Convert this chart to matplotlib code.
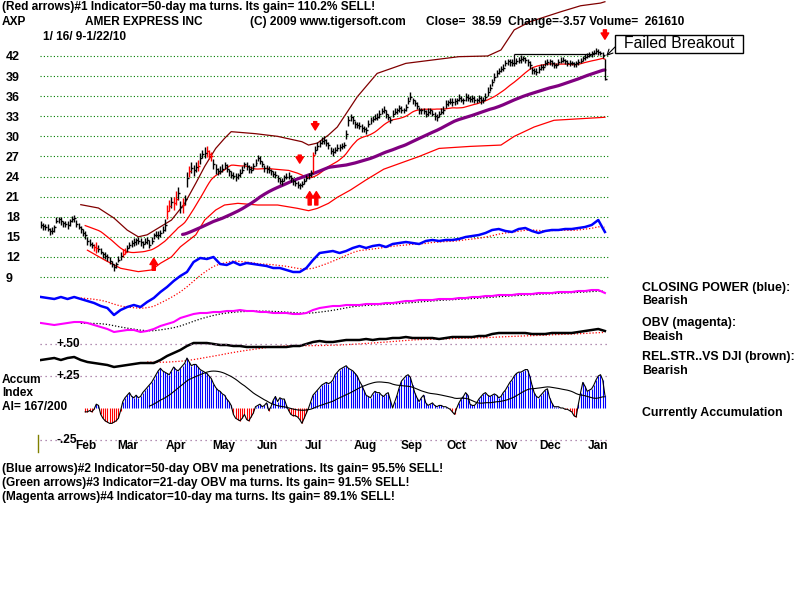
import matplotlib
matplotlib.use("Agg")
import matplotlib.pyplot as plt
import matplotlib.transforms as mtransforms
from matplotlib.lines import Line2D
from matplotlib.patches import Rectangle
import numpy as np
import pandas as pd

plt.rcParams['font.family'] = ['Liberation Sans', 'DejaVu Sans']

# --- daily price bars, AXP 1/16/09 - 1/22/10 (trading day index 0..255) ---
closes = [
    16.8, 16.6, 16.4, 16.2, 15.8, 15.9, 16.4, 17.4, 17.7, 17.3,
    17.0, 16.9, 16.7, 17.3, 17.6, 17.8, 16.9, 16.5, 16.2, 15.6,
    15.2, 14.4, 14.0, 13.8, 13.5, 13.4, 13.2, 12.8, 12.4, 12.2,
    12.0, 11.4, 11.0, 10.5, 10.9, 11.6, 12.2, 12.5, 12.8, 13.4,
    13.8, 14.1, 14.2, 14.5, 14.4, 14.2, 14.0, 14.3, 14.5, 13.8,
    14.4, 15.2, 15.3, 15.2, 15.5, 16.0, 16.8, 18.8, 19.6, 20.2,
    20.0, 20.6, 21.6, 19.4, 19.8, 20.6, 23.8, 24.8, 25.3, 25.0,
    25.4, 25.6, 26.8, 27.3, 27.5, 27.8, 27.4, 27.0, 25.8, 25.2,
    24.8, 24.9, 25.1, 25.7, 25.2, 24.8, 24.3, 24.1, 24.0, 24.2,
    24.6, 25.0, 25.8, 25.6, 25.1, 25.0, 25.6, 26.0, 26.7, 26.3,
    25.8, 25.3, 25.1, 25.0, 24.8, 24.4, 24.2, 23.8, 23.4, 23.3,
    23.9, 24.0, 24.1, 23.8, 23.3, 23.0, 22.8, 22.7, 22.9, 23.4,
    23.8, 24.2, 24.5, 27.2, 27.9, 28.5, 29.0, 29.3, 29.5, 29.0,
    28.7, 27.8, 27.7, 28.0, 28.2, 28.4, 28.6, 28.7, 30.4, 32.4,
    32.9, 32.4, 31.9, 31.7, 31.6, 31.3, 31.1, 30.9, 31.8, 32.4,
    32.6, 32.8, 32.9, 33.4, 33.8, 33.9, 33.4, 32.9, 32.4, 33.4,
    33.7, 33.9, 34.2, 34.0, 33.9, 34.4, 35.3, 35.9, 35.4, 35.0,
    34.6, 33.9, 33.9, 33.8, 33.4, 33.7, 33.9, 33.4, 33.0, 32.9,
    33.4, 33.7, 33.9, 34.9, 35.1, 35.2, 35.1, 35.3, 35.4, 35.7,
    35.5, 35.4, 35.9, 35.8, 35.6, 35.7, 35.5, 35.4, 35.7, 35.5,
    35.4, 35.9, 36.6, 37.2, 38.1, 38.8, 39.4, 39.8, 40.0, 40.2,
    40.9, 41.2, 41.1, 40.9, 41.0, 41.2, 41.4, 41.6, 41.7, 41.4,
    41.1, 40.6, 39.9, 39.7, 39.6, 40.1, 40.3, 40.4, 40.9, 41.1,
    41.2, 40.9, 40.7, 40.6, 41.1, 41.3, 41.4, 41.2, 41.0, 40.9,
    40.9, 40.8, 40.9, 41.1, 41.3, 41.7, 41.9, 42.0, 42.2, 42.4,
    42.5, 42.7, 42.6, 42.4, 42.16, 38.59,
]
up_range = [
    .6, .4, .5, .7, .5, .6, .4, .5, .3, .6,
    .4, .5, .6, .3, .5, .4, .6, .5, .4, .6,
    .7, .5, .6, .4, .5, .9, .6, .5, .4, .6,
    .5, .6, .4, .5, .3, .6, .5, .7, .6, .4,
    .5, .4, .6, .3, .5, .6, .4, .5, .4, .7,
    .6, .4, .5, .7, .5, .6, .8, 1.0, .9, .8,
    .9, 1.2, .8, .9, 1.0, .7, .9, .8, .9, .7,
    .8, .9, .7, .6, .9, .8, .6, .7, .8, .6,
    .5, .6, .7, .5, .6, .4, .5, .6, .5, .4,
    .5, .6, .4, .5, .6, .5, .4, .6, .5, .7,
    .5, .4, .6, .5, .4, .5, .6, .5, .4, .5,
    .4, .5, .6, .5, .4, .5, .6, .4, .5, .4,
    .5, .4, .5, .5, .7, .6, .5, .6, .5, .6,
    .5, .6, .5, .4, .6, .5, .4, .5, .6, .7,
    .5, .6, .4, .5, .6, .5, .4, .5, .6, .5,
    .4, .5, .6, .5, .4, .6, .5, .4, .5, .6,
    .5, .4, .5, .6, .4, .5, .6, .7, .4, .5,
    .6, .5, .4, .5, .6, .5, .4, .5, .6, .5,
    .4, .5, .6, .5, .4, .5, .6, .5, .4, .6,
    .5, .4, .6, .5, .4, .5, .6, .4, .5, .6,
    .5, .6, .7, .6, .5, .6, .5, .4, .5, .6,
    .5, .4, .5, .6, .4, .5, .4, .5, .3, .4,
    .5, .6, .4, .5, .6, .4, .5, .4, .5, .4,
    .4, .5, .4, .3, .4, .5, .4, .3, .4, .5,
    .4, .3, .4, .5, .4, .3, .4, .5, .4, .3,
    .4, .5, .4, .3, .4, 3.0,
]
down_range = [
    .5, .6, .4, .3, .6, .5, .7, .4, .6, .5,
    .6, .4, .5, .7, .4, .6, .5, .4, .6, .5,
    .5, .6, .4, .5, .6, .8, .5, .4, .6, .5,
    .6, .4, .5, .6, .5, .4, .6, .5, .4, .6,
    .4, .6, .5, .7, .4, .5, .6, .4, .6, .5,
    .5, .6, .4, .5, .6, .5, .9, 1.1, .8, .9,
    1.0, .8, 1.1, .9, 1.2, .9, 1.3, .8, .7, .9,
    .7, .8, .9, .6, .7, .9, .8, .7, .6, .8,
    .6, .5, .4, .6, .5, .7, .5, .4, .6, .5,
    .6, .4, .5, .6, .5, .4, .6, .5, .4, .5,
    .4, .6, .5, .4, .6, .5, .4, .6, .5, .6,
    .5, .4, .5, .6, .5, .4, .5, .6, .4, .5,
    .4, .5, .6, 2.6, .6, .5, .6, .5, .6, .5,
    .6, .5, .6, .5, .4, .6, .5, .4, .8, .9,
    .6, .5, .6, .4, .5, .6, .5, .6, .4, .5,
    .5, .4, .5, .6, .5, .4, .6, .5, .4, .5,
    .4, .5, .6, .5, .4, .6, .5, .4, .6, .5,
    .5, .6, .5, .4, .5, .6, .5, .4, .5, .6,
    .5, .4, .5, .6, .5, .4, .5, .6, .5, .4,
    .4, .5, .6, .5, .4, .6, .5, .4, .5, .6,
    .4, .5, .6, .5, .6, .5, .6, .5, .4, .5,
    .4, .5, .6, .4, .5, .4, .5, .6, .4, .5,
    .6, .5, .6, .4, .5, .6, .4, .5, .4, .5,
    .5, .4, .5, .4, .5, .4, .3, .4, .5, .4,
    .3, .4, .5, .4, .3, .4, .5, .3, .4, .5,
    .3, .4, .5, .3, .4, .2,
]
red_days = [24, 25, 37, 38, 57, 58, 60, 61, 64, 67, 71, 75, 76, 77, 123]

# price bands
upper_days = [18, 26, 33, 39, 44, 48, 54, 59, 65, 70, 74, 79, 83, 86, 97, 107, 118,
              121, 125, 130, 134, 143, 152, 165, 177, 189, 202, 208, 214, 221, 235,
              244, 253, 255]
upper_band = [19.8, 19.3, 17.8, 16.0, 15.0, 15.3, 16.5, 17.5, 20.0, 23.0, 25.5, 28.2,
              29.7, 30.7, 30.4, 30.0, 29.2, 28.7, 29.0, 30.2, 31.4, 35.9, 39.4, 40.9,
              41.4, 41.9, 42.0, 42.9, 45.9, 47.1, 48.6, 49.5, 49.9, 50.1]
lower_days = [21, 29, 36, 44, 50, 54, 59, 63, 70, 74, 79, 83, 89, 98, 107, 116, 121,
              125, 130, 134, 140, 147, 155, 171, 180, 194, 208, 214, 223, 232, 255]
lower_band = [13.0, 11.5, 10.3, 9.8, 10.05, 11.05, 12.0, 13.5, 15.3, 17.5, 19.0, 19.75,
              20.0, 19.75, 19.75, 19.25, 18.9, 19.25, 20.0, 20.9, 22.0, 23.5, 25.1,
              27.0, 28.2, 28.5, 28.7, 30.0, 31.4, 32.4, 32.85]

# red signal arrows: day, tail price, tip price
arrow_days = [51, 117, 121.5, 124.5, 124, 255]
arrow_tail = [10.0, 27.2, 19.75, 19.75, 32.2, 45.9]
arrow_tip = [11.8, 26.0, 21.75, 21.75, 30.95, 44.5]

# indicators sampled every 3rd trading day (arbitrary units)
ind_days = list(range(0, 256, 3))
closing_power = [
    33, 32, 31, 33, 31, 33, 31, 29, 27, 24,
    22, 15, 20, 23, 25, 23, 28, 32, 38, 43,
    49, 54, 58, 68, 72, 71, 73, 66, 65, 68,
    65, 67, 66, 65, 64, 62, 62, 60, 58, 58,
    62, 70, 77, 78, 79, 77, 79, 82, 84, 82,
    84, 85, 83, 86, 87, 88, 87, 86, 89, 90,
    89, 90, 90, 91, 93, 94, 95, 97, 100, 101,
    99, 98, 101, 102, 99, 97, 99, 100, 100, 101,
    101, 102, 103, 105, 110, 98,
]
obv = [
    17, 16, 15, 16, 17, 18, 18, 17, 15, 13,
    11, 8, 9, 10, 10, 8, 9, 11, 14, 16,
    18, 22, 24, 26, 27, 27, 28, 28, 29, 29,
    30, 29, 29, 28, 28, 27, 27, 27, 26, 26,
    27, 30, 32, 33, 34, 34, 35, 35, 35, 36,
    36, 36, 37, 37, 38, 39, 39, 40, 40, 40,
    41, 41, 41, 42, 42, 43, 43, 44, 44, 45,
    45, 45, 46, 46, 46, 47, 47, 47, 48, 48,
    48, 49, 49, 50, 50, 47,
]
rel_strength = [
    10, 11, 12, 10, 12, 13, 10, 8, 7, 6,
    5, 3, 4, 5, 6, 7, 7, 7, 10, 14,
    17, 20, 24, 27, 27, 27, 26, 25, 25, 24,
    24, 23, 23, 23, 23, 23, 23, 23, 24, 24,
    26, 28, 29, 28, 28, 29, 30, 30, 30, 31,
    30, 31, 31, 32, 32, 33, 32, 32, 32, 32,
    31, 32, 33, 33, 33, 33, 34, 34, 36, 37,
    37, 37, 37, 37, 36, 36, 36, 37, 37, 37,
    37, 38, 39, 40, 41, 39,
]

# accumulation index, daily from day 20
acc_days = list(range(20, 256))
accum = [
    -0.03, -0.03, -0.02, -0.03, -0.01, 0.03, 0.02, -0.05, -0.08, -0.10,
    -0.11, -0.12, -0.12, -0.11, -0.10, -0.08, -0.02, 0.05, 0.08, 0.10,
    0.12, 0.09, 0.08, 0.10, 0.08, 0.09, 0.12, 0.14, 0.16, 0.18,
    0.20, 0.23, 0.26, 0.29, 0.31, 0.29, 0.28, 0.27, 0.26, 0.29,
    0.32, 0.30, 0.29, 0.31, 0.33, 0.35, 0.39, 0.36, 0.33, 0.34,
    0.34, 0.32, 0.30, 0.29, 0.28, 0.27, 0.25, 0.23, 0.19, 0.16,
    0.14, 0.13, 0.11, 0.10, 0.07, 0.05, 0.02, -0.05, -0.08, -0.09,
    -0.10, -0.08, -0.05, -0.09, -0.10, -0.07, -0.04, 0.01, 0.02, 0.03,
    0.01, 0.02, 0.04, -0.02, 0.01, 0.06, 0.09, 0.05, 0.08, 0.07,
    0.07, 0.02, -0.02, -0.05, -0.06, -0.06, -0.07, -0.09, -0.12, -0.08,
    -0.04, 0.00, 0.05, 0.10, 0.12, 0.14, 0.16, 0.18, 0.19, 0.20,
    0.19, 0.20, 0.22, 0.26, 0.28, 0.30, 0.31, 0.32, 0.33, 0.31,
    0.30, 0.29, 0.27, 0.25, 0.21, 0.18, 0.14, 0.10, 0.09, 0.08,
    0.11, 0.13, 0.12, 0.12, 0.10, 0.09, 0.11, 0.12, 0.06, 0.00,
    0.05, 0.10, 0.16, 0.21, 0.23, 0.25, 0.26, 0.24, 0.18, 0.12,
    0.08, 0.05, 0.08, 0.10, 0.04, 0.02, 0.03, 0.04, 0.02, 0.01,
    0.02, 0.02, 0.01, 0.01, 0.00, -0.01, -0.03, -0.05, 0.00, 0.04,
    0.07, 0.09, 0.12, 0.10, 0.03, 0.02, 0.02, 0.04, 0.07, 0.09,
    0.11, 0.12, 0.10, 0.09, 0.10, 0.11, 0.10, 0.08, 0.09, 0.12,
    0.14, 0.17, 0.20, 0.22, 0.25, 0.27, 0.28, 0.28, 0.29, 0.30,
    0.30, 0.25, 0.18, 0.12, 0.09, 0.08, 0.10, 0.12, 0.14, 0.15,
    0.08, 0.04, 0.01, 0.01, 0.01, 0.00, 0.00, -0.01, -0.01, -0.02,
    -0.03, -0.06, -0.07, 0.03, 0.12, 0.20, 0.17, 0.13, 0.14, 0.15,
    0.18, 0.22, 0.25, 0.26, 0.22, 0.10,
]

price_ticks = [42, 39, 36, 33, 30, 27, 24, 21, 18, 15, 12, 9]
month_names = ['Feb', 'Mar', 'Apr', 'May', 'Jun', 'Jul', 'Aug', 'Sep', 'Oct', 'Nov', 'Dec', 'Jan']
month_start = [10, 29, 51, 72, 92, 114, 136, 157, 178, 200, 220, 242]
accum_levels = [0.50, 0.25, -0.25]
accum_labels = ['+.50', '+.25', '-.25']

# ---------------------------------------------------------------
W, H = 800, 600
fig = plt.figure(figsize=(8, 6), dpi=100)
fig.patch.set_facecolor('white')
XLIM = (-0.45, 257.3)
FS = 8.6


def rect(x0, y0, x1, y1):
    return [x0 / W, 1 - y1 / H, (x1 - x0) / W, (y1 - y0) / H]


def label(x, y, s, size=FS, **kw):
    fig.text(x / W, 1 - y / H, s, fontsize=size, fontweight='bold',
             va='center', ha=kw.pop('ha', 'left'), **kw)


def layer(x0, y0, x1, y1, ylim):
    a = fig.add_axes(rect(x0, y0, x1, y1))
    a.set_xlim(*XLIM)
    a.set_ylim(*ylim)
    a.patch.set_alpha(0)
    for s in a.spines.values():
        s.set_visible(False)
    a.set_xticks([])
    a.set_yticks([])
    return a


days = np.arange(len(closes))
c = np.array(closes)
highs = c + np.array(up_range)
lows = c - np.array(down_range)
ma21 = pd.Series(closes).rolling(21).mean()
ma65 = pd.Series(closes).rolling(65).mean()

# price panel
ax = layer(40, 0, 610, 300, (5.566, 50.36))
ax.hlines(price_ticks, -0.45, 256.3, colors='#008000', linestyles=(0, (1, 2)), lw=0.8)
ax.set_yticks(price_ticks, [str(t) for t in price_ticks])
ax.tick_params(axis='y', length=0, pad=24.5, labelsize=9)
for t in ax.get_yticklabels():
    t.set_ha('left')
    t.set_fontweight('bold')

ax.plot(upper_days, upper_band, color='#800000', lw=0.9)
ax.plot(lower_days, lower_band, color='#ff0000', lw=0.9)
ax.plot(days, ma21, color='#ff0000', lw=0.9)
ax.plot(days, ma65, color='#800080', lw=2.3, solid_capstyle='round')

bar_col = ['#ff0000' if d in red_days else 'black' for d in days]
ax.vlines(days, lows, highs, colors=bar_col, lw=1.0)
ax.hlines(closes, days, days + 0.9, colors=bar_col, lw=1.0)

for d, t0, t1 in zip(arrow_days, arrow_tail, arrow_tip):
    ax.annotate('', xy=(d, t1), xytext=(d, t0),
                arrowprops=dict(arrowstyle='simple,head_length=0.45,head_width=0.55,tail_width=0.22',
                                color='#ff0000', shrinkA=0, shrinkB=0, mutation_scale=10))

# failed breakout resistance line and label box
ax.hlines(42.3, 214, 250, colors='black', lw=0.9)
ax.vlines(214, 41.3, 42.3, colors='black', lw=0.9)
ax.annotate('', xy=(255.6, 42.0), xytext=(615, 600 - 47), textcoords='figure pixels',
            arrowprops=dict(arrowstyle='->', color='black', lw=0.8, shrinkA=0, shrinkB=0))
fig.add_artist(Rectangle((615 / W, 1 - 53 / H), 128 / W, 18 / H, transform=fig.transFigure,
                         fc='white', ec='black', lw=1))
fig.text(679 / W, 1 - 44 / H, 'Failed Breakout', fontsize=11.3, ha='center', va='center')

# closing power
ax_cp = layer(40, 200, 610, 330, (0, 130))
ax_cp.plot(ind_days, pd.Series(closing_power).rolling(7).mean(), color='#ff0000',
           ls=(0, (1, 1.5)), lw=0.9)
ax_cp.plot(ind_days, closing_power, color='#0000ff', lw=1.8)

# OBV
ax_obv = layer(40, 280, 610, 340, (0, 60))
ax_obv.plot(ind_days, pd.Series(obv).rolling(7).mean(), color='black',
            ls=(0, (1, 1.5)), lw=0.9)
ax_obv.plot(ind_days, obv, color='#ff00ff', lw=1.5)

# relative strength vs DJI
ax_rs = layer(40, 320, 610, 370, (0, 50))
ax_rs.plot(ind_days, pd.Series(rel_strength).rolling(17).mean(), color='#ff0000',
           ls=(0, (1, 1.5)), lw=0.9)
ax_rs.plot(ind_days, rel_strength, color='black', lw=1.8)

# accumulation index
ax_ai = layer(40, 340, 610, 450, (-0.328, 0.531))
ax_ai.hlines(accum_levels, -0.45, 256.3, colors='#9a6a9a', linestyles=(0, (1, 3)), lw=0.9)
acc = np.array(accum)
ax_ai.vlines(acc_days, 0, acc, colors=np.where(acc >= 0, '#0000ff', '#ff0000'), lw=0.8)
ax_ai.plot(acc_days, acc, color='black', lw=0.8)
ax_ai.plot(acc_days, pd.Series(accum).rolling(30).mean(), color='black', lw=0.8)

blend = mtransforms.blended_transform_factory(fig.transFigure, ax_ai.transData)
for lv, lb in zip(accum_levels, accum_labels):
    ax_ai.text(56 / W, lv, lb, transform=blend, fontsize=8.6, fontweight='bold',
               va='center', ha='left')

for m, name in zip(month_start, month_names):
    ax_ai.text(m + 5.4, 0.036, name, transform=ax_ai.get_xaxis_transform(),
               fontsize=8.6, fontweight='bold', va='center', ha='left')

fig.add_artist(Line2D([38 / W, 38 / W], [1 - 435 / H, 1 - 452 / H], color='#808000', lw=1))

# header
label(2, 7, '(Red arrows)#1 Indicator=50-day ma turns. Its gain= 110.2% SELL!')
label(2, 22, 'AXP')
label(85, 22, 'AMER EXPRESS INC')
label(250, 22, '(C) 2009 www.tigersoft.com')
label(426, 22, 'Close=  38.59  Change=-3.57 Volume=  261610')
label(43, 37, '1/ 16/ 9-1/22/10')

# left panel texts
label(2, 380, 'Accum')
label(2, 393, 'Index')
label(2, 407, 'AI= 167/200')

# right panel texts
label(642, 288, 'CLOSING POWER (blue):', size=8.9)
label(642, 301, 'Bearish', size=8.9)
label(642, 323, 'OBV (magenta):', size=8.9)
label(642, 337, 'Beaish', size=8.9)
label(642, 357, 'REL.STR..VS DJI (brown):', size=8.9)
label(642, 371, 'Bearish', size=8.9)
label(642, 413, 'Currently Accumulation', size=8.9)

# footer
label(2, 469, '(Blue arrows)#2 Indicator=50-day OBV ma penetrations. Its gain= 95.5% SELL!')
label(2, 483, '(Green arrows)#3 Indicator=21-day OBV ma turns. Its gain= 91.5% SELL!')
label(2, 497, '(Magenta arrows)#4 Indicator=10-day ma turns. Its gain= 89.1% SELL!')

fig.savefig('out.png', dpi=100)
